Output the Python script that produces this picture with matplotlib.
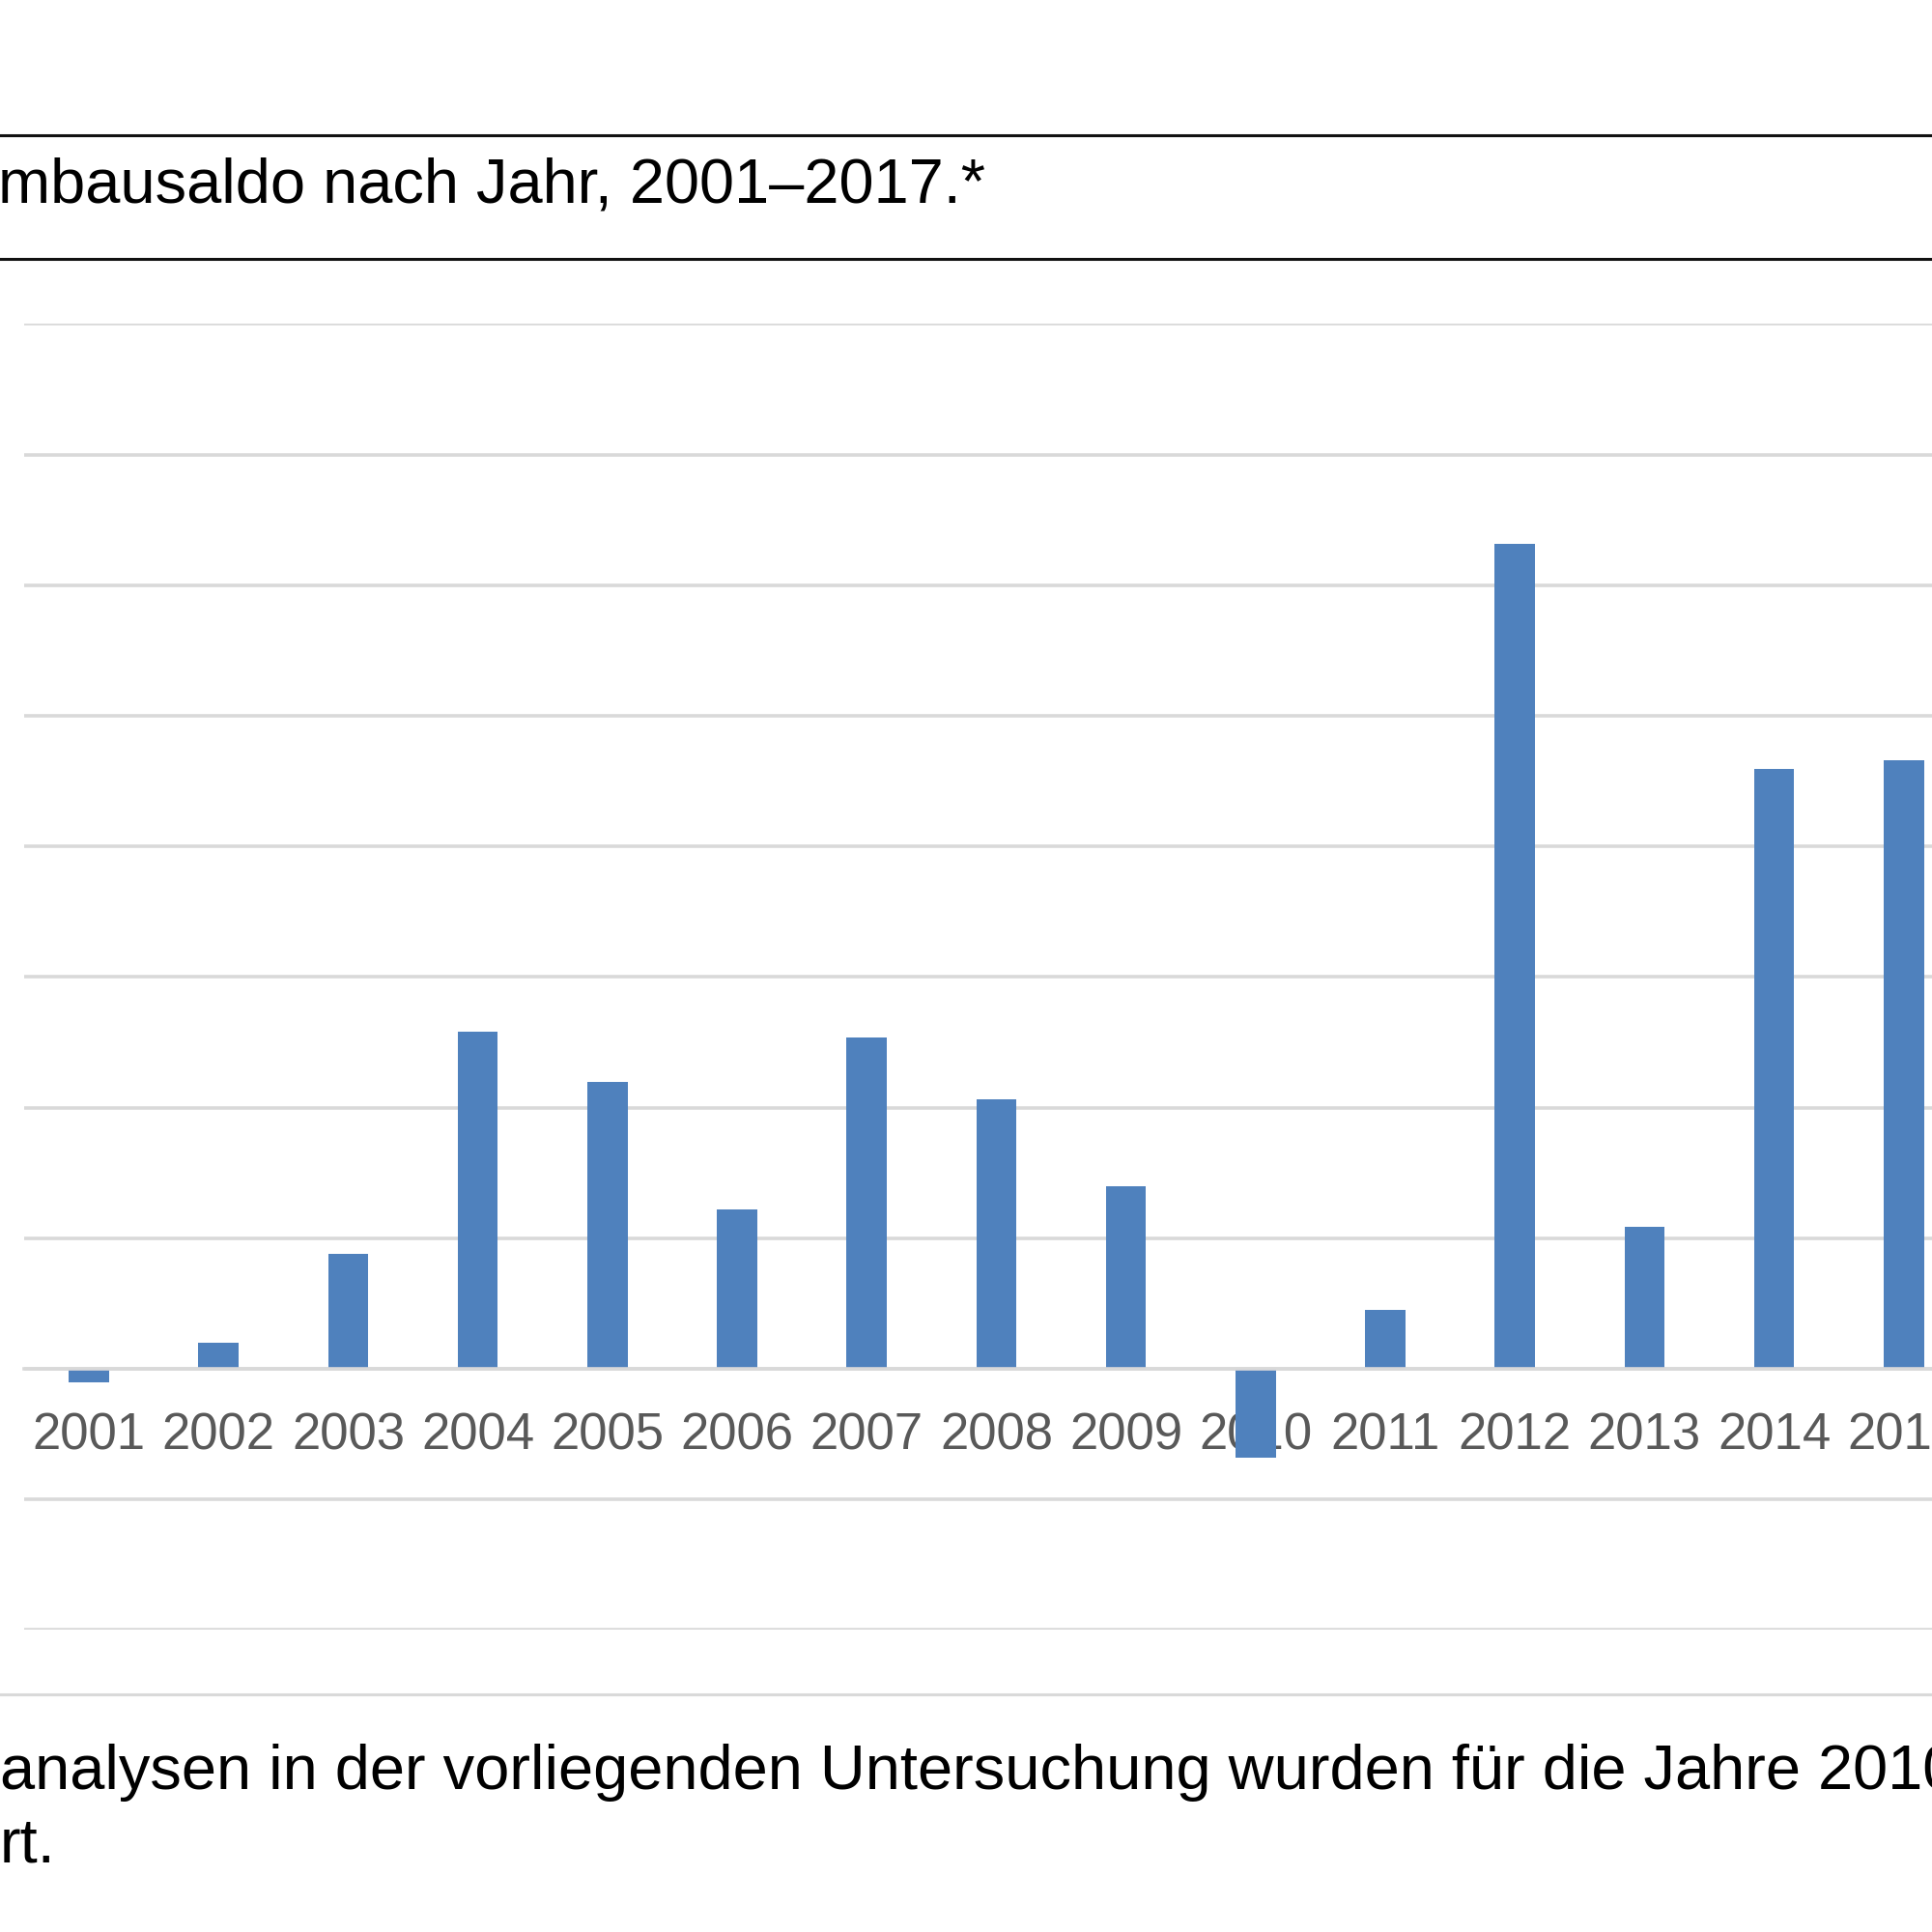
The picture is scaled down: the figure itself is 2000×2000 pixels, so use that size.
import matplotlib
matplotlib.use("Agg")
import matplotlib.pyplot as plt
from matplotlib.lines import Line2D

plt.rcParams['font.family'] = ['Liberation Sans', 'DejaVu Sans']

# one grid step = 100
years = ['2001', '2002', '2003', '2004', '2005', '2006', '2007', '2008',
         '2009', '2010', '2011', '2012', '2013', '2014', '2015']
saldo = [-10, 20, 88, 258, 220, 122, 254, 206, 140, -68, 45, 632, 109, 459, 466]
grid_steps = list(range(-200, 801, 100))

title = "mbausaldo nach Jahr, 2001\u20132017.*"
note1 = "analysen in der vorliegenden Untersuchung wurden f\u00fcr die Jahre 2010"
note2 = "rt."

bar_color = '#4F81BD'
grid_color = '#D9D9D9'

fig = plt.figure(figsize=(10, 10), dpi=200)

# plot area runs off the right edge like the cropped original
ax = fig.add_axes([0.0125, 0.1563, 1.0064, 0.676])
x = range(len(years))
ax.bar(x, saldo, width=0.31, color=bar_color, zorder=2)
ax.set_xlim(-0.5, len(years) - 0.5)
ax.set_ylim(grid_steps[0], grid_steps[-1])
ax.set_yticks(grid_steps)
ax.yaxis.grid(True, color=grid_color, linewidth=1.3)
ax.set_axisbelow(True)
ax.tick_params(axis='y', left=False, labelleft=False)

ax.set_xticks(list(x))
ax.set_xticklabels(years)
ax.tick_params(axis='x', length=0, pad=16, labelsize=19, labelcolor='#595959')
ax.spines['bottom'].set_position(('data', 0))
ax.spines['bottom'].set_color(grid_color)
ax.spines['bottom'].set_linewidth(1.3)
for s in ['left', 'right', 'top']:
    ax.spines[s].set_visible(False)

# title block with rules
fig.add_artist(Line2D([0, 1], [1 - 140 / 2000, 1 - 140 / 2000], color='#111111', linewidth=1.1))
fig.add_artist(Line2D([0, 1], [1 - 268 / 2000, 1 - 268 / 2000], color='#111111', linewidth=1.1))
fig.text(-0.001, 1 - 210 / 2000, title, fontsize=23.4, color='black', va='baseline', ha='left')

# frame line and footnote
fig.add_artist(Line2D([0, 1], [1 - 1754 / 2000, 1 - 1754 / 2000], color=grid_color, linewidth=1.1))
fig.text(0.0, 1 - 1852 / 2000, note1, fontsize=23.4, color='black', va='baseline', ha='left')
fig.text(0.0, 1 - 1928 / 2000, note2, fontsize=23.4, color='black', va='baseline', ha='left')

fig.savefig('out.png', dpi=200)
